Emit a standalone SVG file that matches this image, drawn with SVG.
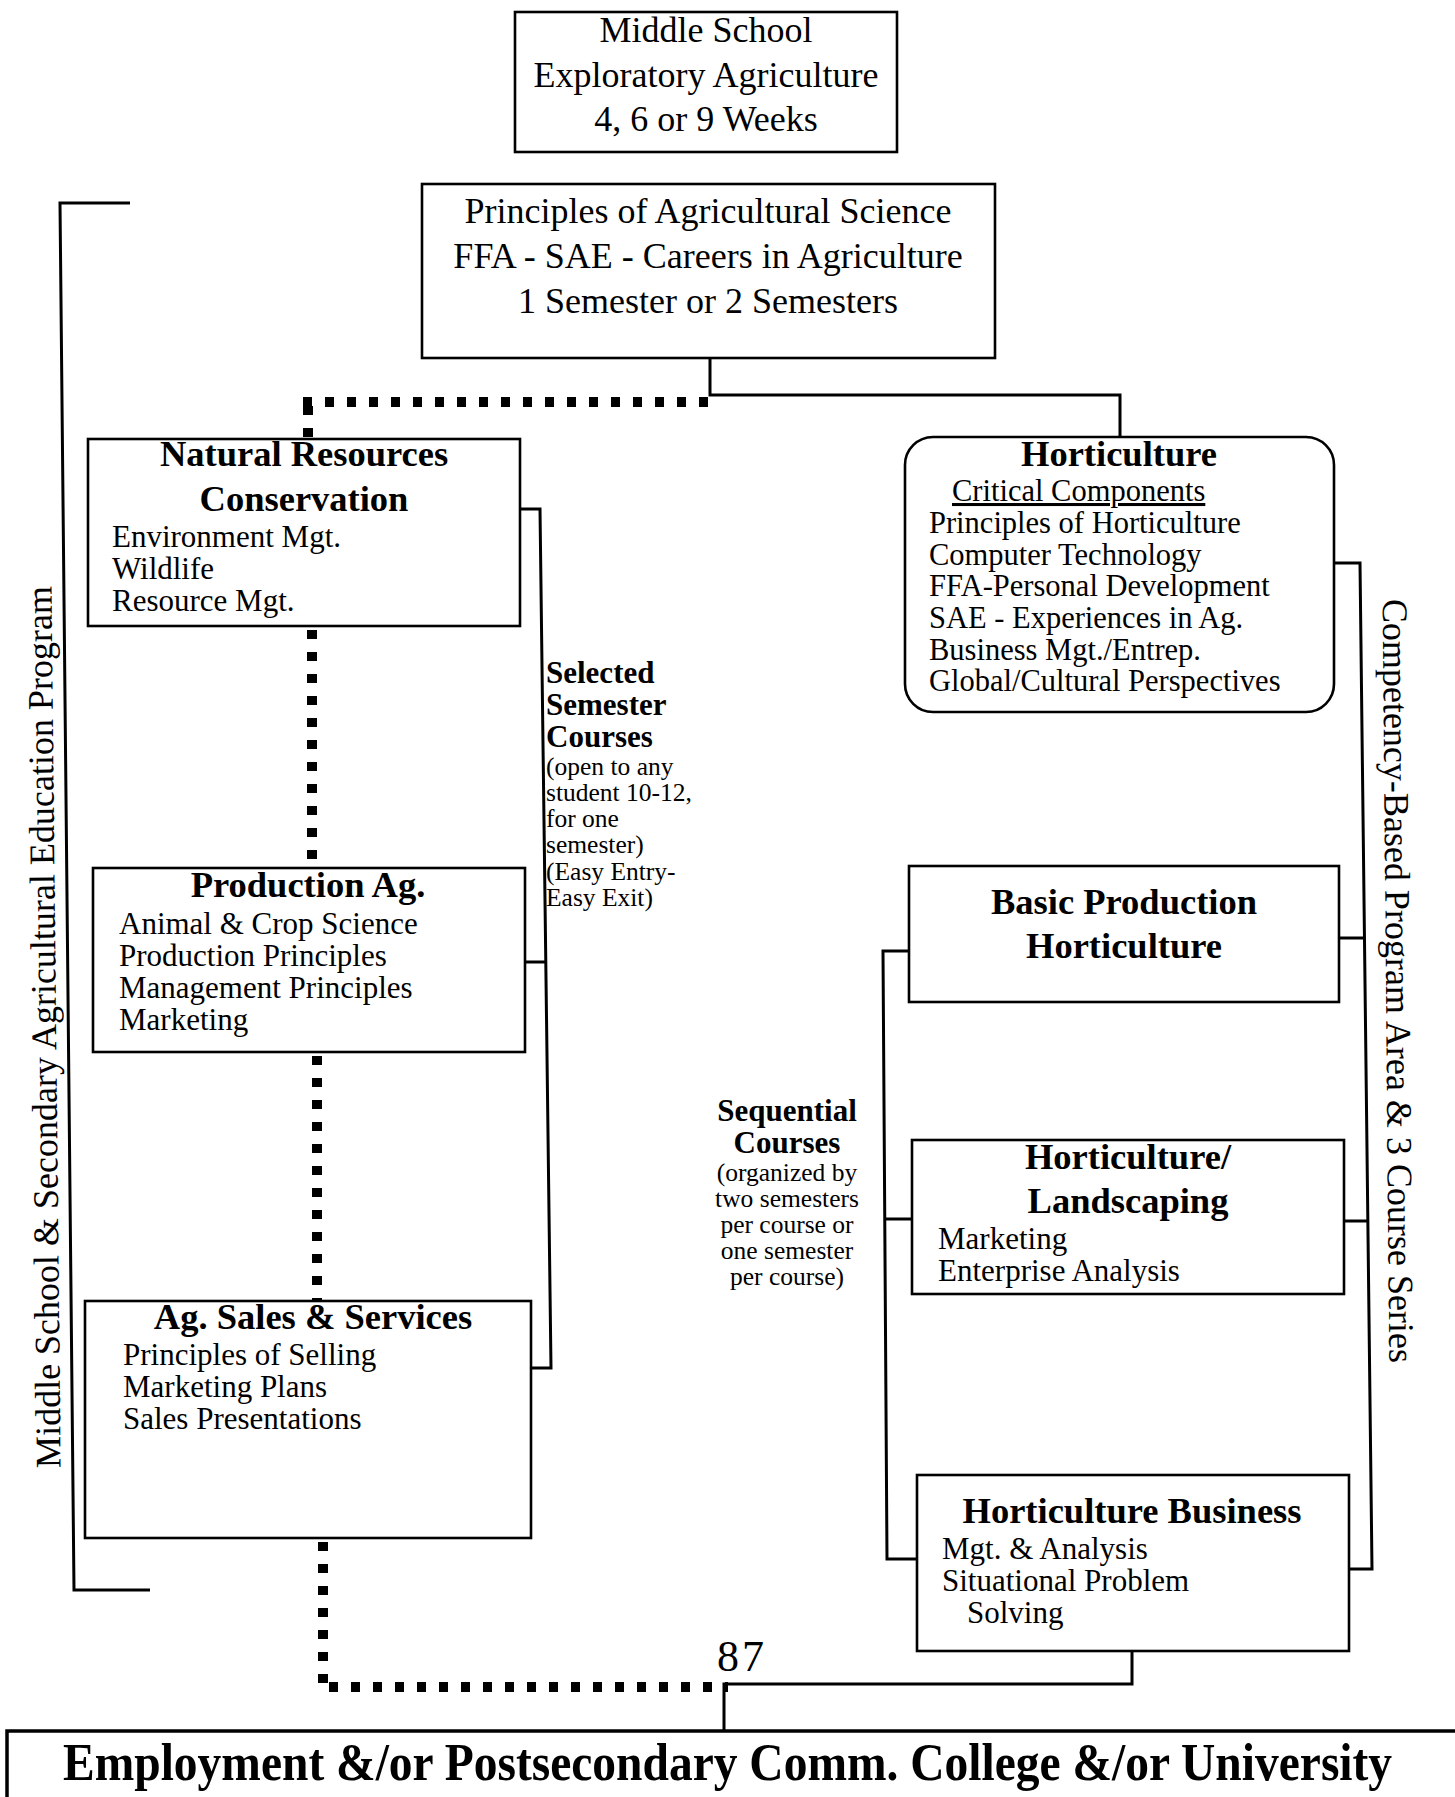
<svg xmlns="http://www.w3.org/2000/svg" width="1455" height="1797" viewBox="0 0 1455 1797">
<style>
text{font-family:"Liberation Serif","Times New Roman",serif;fill:#000}
.t36{font-size:36px}
.b36{font-size:36.5px;font-weight:bold}
.r31{font-size:31px}
.r30{font-size:30.5px}
.b31{font-size:31px;font-weight:bold}
.s26{font-size:25.5px}
.box{fill:#fff;stroke:#000;stroke-width:2.6}
.ln{fill:none;stroke:#000;stroke-width:3}
.dot{fill:none;stroke:#000;stroke-width:10;stroke-dasharray:9 13}
.mid{text-anchor:middle}
</style>
<rect width="1455" height="1797" fill="#fff"/>

<g id="connectors">
  <path class="ln" d="M710,358 V395 H1120 V437"/>
  <path class="ln" d="M520,509 H540 L551,1368 H531"/>
  <path class="ln" d="M525,962 H546"/>
  <path class="ln" d="M1334,563 H1360 L1372,1569 H1349"/>
  <path class="ln" d="M1339,938 H1365"/>
  <path class="ln" d="M1344,1221 H1368"/>
  <path class="ln" d="M909,951 H883 L887,1559 H917"/>
  <path class="ln" d="M885,1219 H912"/>
  <path class="ln" d="M1132,1651 V1684 H724 V1731"/>
  <path class="ln" d="M130,203 H60 L74,1590 H150"/>
  <path class="dot" d="M303,402 H712"/>
  <path class="dot" d="M308,406 V439"/>
  <path class="dot" d="M312,630 V868"/>
  <path class="dot" d="M317,1056 V1301"/>
  <path class="dot" d="M323,1542 V1691"/>
  <path class="dot" d="M329,1687 H728"/>
</g>

<g id="middle-school">
  <rect class="box" x="515" y="12" width="382" height="140"/>
  <text class="t36 mid" x="706" y="42">Middle School</text>
  <text class="t36 mid" x="706" y="87">Exploratory Agriculture</text>
  <text class="t36 mid" x="706" y="131">4, 6 or 9 Weeks</text>
</g>

<g id="principles">
  <rect class="box" x="422" y="184" width="573" height="174"/>
  <text class="t36 mid" x="708" y="223">Principles of Agricultural Science</text>
  <text class="t36 mid" x="708" y="268">FFA - SAE - Careers in Agriculture</text>
  <text class="t36 mid" x="708" y="313">1 Semester or 2 Semesters</text>
</g>

<g id="natural-resources">
  <rect class="box" x="88" y="439" width="432" height="187"/>
  <text class="b36 mid" x="304" y="466">Natural Resources</text>
  <text class="b36 mid" x="304" y="511">Conservation</text>
  <text class="r31" x="112" y="547">Environment Mgt.</text>
  <text class="r31" x="112" y="579">Wildlife</text>
  <text class="r31" x="112" y="611">Resource Mgt.</text>
</g>

<g id="production-ag">
  <rect class="box" x="93" y="868" width="432" height="184"/>
  <text class="b36 mid" x="308" y="897">Production Ag.</text>
  <text class="r31" x="119" y="934">Animal &amp; Crop Science</text>
  <text class="r31" x="119" y="966">Production Principles</text>
  <text class="r31" x="119" y="998">Management Principles</text>
  <text class="r31" x="119" y="1030">Marketing</text>
</g>

<g id="ag-sales">
  <rect class="box" x="85" y="1301" width="446" height="237"/>
  <text class="b36 mid" x="313" y="1329">Ag. Sales &amp; Services</text>
  <text class="r31" x="123" y="1365">Principles of Selling</text>
  <text class="r31" x="123" y="1397">Marketing Plans</text>
  <text class="r31" x="123" y="1429">Sales Presentations</text>
</g>

<g id="selected-label">
  <text class="b31" x="546" y="683">Selected</text>
  <text class="b31" x="546" y="715">Semester</text>
  <text class="b31" x="546" y="747">Courses</text>
  <text class="s26" x="546" y="775">(open to any</text>
  <text class="s26" x="546" y="801">student 10-12,</text>
  <text class="s26" x="546" y="827">for one</text>
  <text class="s26" x="546" y="853">semester)</text>
  <text class="s26" x="546" y="880">(Easy Entry-</text>
  <text class="s26" x="546" y="906">Easy Exit)</text>
</g>

<g id="horticulture">
  <rect class="box" x="905" y="437" width="429" height="275" rx="28" ry="28"/>
  <text class="b36 mid" x="1119" y="466">Horticulture</text>
  <text class="r30" x="952" y="501" text-decoration="underline">Critical Components</text>
  <text class="r30" x="929" y="533">Principles of Horticulture</text>
  <text class="r30" x="929" y="565">Computer Technology</text>
  <text class="r30" x="929" y="596">FFA-Personal Development</text>
  <text class="r30" x="929" y="628">SAE - Experiences in Ag.</text>
  <text class="r30" x="929" y="660">Business Mgt./Entrep.</text>
  <text class="r30" x="929" y="691">Global/Cultural Perspectives</text>
</g>

<g id="basic-production">
  <rect class="box" x="909" y="866" width="430" height="136"/>
  <text class="b36 mid" x="1124" y="914">Basic Production</text>
  <text class="b36 mid" x="1124" y="958">Horticulture</text>
</g>

<g id="hort-landscaping">
  <rect class="box" x="912" y="1140" width="432" height="154"/>
  <text class="b36 mid" x="1128" y="1169">Horticulture/</text>
  <text class="b36 mid" x="1128" y="1213">Landscaping</text>
  <text class="r31" x="938" y="1249">Marketing</text>
  <text class="r31" x="938" y="1281">Enterprise Analysis</text>
</g>

<g id="hort-business">
  <rect class="box" x="917" y="1475" width="432" height="176"/>
  <text class="b36 mid" x="1132" y="1523">Horticulture Business</text>
  <text class="r31" x="942" y="1559">Mgt. &amp; Analysis</text>
  <text class="r31" x="942" y="1591">Situational Problem</text>
  <text class="r31" x="967" y="1623">Solving</text>
</g>

<g id="sequential-label">
  <text class="b31 mid" x="787" y="1121">Sequential</text>
  <text class="b31 mid" x="787" y="1153">Courses</text>
  <text class="s26 mid" x="787" y="1181">(organized by</text>
  <text class="s26 mid" x="787" y="1207">two semesters</text>
  <text class="s26 mid" x="787" y="1233">per course or</text>
  <text class="s26 mid" x="787" y="1259">one semester</text>
  <text class="s26 mid" x="787" y="1285">per course)</text>
</g>

<g id="left-label">
  <text class="t36 mid" transform="translate(56,1027) rotate(-90.6)" x="0" y="0">Middle School &amp; Secondary Agricultural Education Program</text>
</g>

<g id="right-label">
  <text class="t36 mid" transform="translate(1386,981) rotate(89.5)" x="0" y="0">Competency-Based Program Area &amp; 3 Course Series</text>
</g>

<g id="page-number">
  <text x="717" y="1671" style="font-size:44px;letter-spacing:3px">87</text>
</g>

<g id="employment">
  <rect x="7" y="1731" width="1500" height="120" fill="#fff" stroke="#000" stroke-width="3.5"/>
  <text transform="translate(63,1780) scale(1,1.1)" x="0" y="0" style="font-size:47.5px;font-weight:bold">Employment &amp;/or Postsecondary Comm. College &amp;/or University</text>
</g>
</svg>
